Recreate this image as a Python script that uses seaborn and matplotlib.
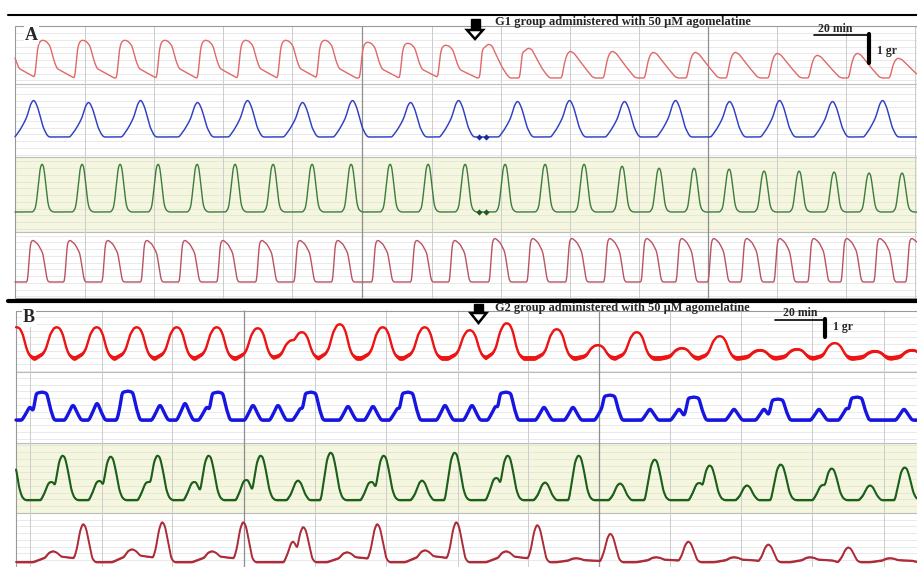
import numpy as np
import pandas as pd
import matplotlib
matplotlib.use("Agg")
import matplotlib.pyplot as plt
from matplotlib.patches import Polygon, Rectangle
import seaborn as sns

# ---------------- data (pixel units) ----------------
# Panel A (G1 group) -- beat onsets / peaks and amplitudes
a_red_onsets = [-3, 35, 75, 117, 157, 198, 238, 278, 317, 360, 400, 438,
                480, 520, 562, 604, 645, 687, 727, 769, 809, 849, 890]
a_red_amps = [38, 38, 38, 38, 38, 38, 38, 38, 38, 36, 35, 33,
              34, 30, 27, 27, 26, 26, 26, 25, 23, 25, 20]
a_red_kinds = ["a_pre"] * 12 + ["a_mid"] * 2 + ["a_post"] * 9

a_blue_peaks = [33, 88, 140, 197, 247, 302, 352, 410, 458, 517, 569, 624,
                675, 729, 779, 832, 882]
a_blue_amps = [37, 35, 37, 35, 37, 35, 37, 35, 37, 36, 37, 36, 37, 36, 37, 36, 37]

a_green_peaks = [42, 82, 120, 158, 197, 235, 273, 312, 351, 390, 428, 465,
                 505, 545, 584, 622, 659, 694, 729, 764, 799, 834, 869, 902]
a_green_amps = [49] * 15 + [47, 45, 45, 44, 42, 42, 41, 40, 40]

a_dred_onsets = [28, 65, 103, 142, 180, 218, 257, 295, 333, 373, 412, 450,
                 490, 528, 567, 605, 642, 677, 709, 742, 775, 809, 842, 875, 907]
a_dred_amps = [42] * 12 + [44] * 13

a_marks_x = [479, 486]

# Panel B (G2 group)
b_red_peaks = [17, 57, 97, 137, 177, 217, 258, 293, 302, 340, 383, 425, 470,
               507, 557, 598, 637, 682, 720, 760, 797, 835, 875, 912]
b_red_amps = [31, 31, 31, 31, 31, 31, 30, 18, 26, 34, 31, 31, 28,
              35, 29, 13, 26, 10, 22, 8, 9, 15, 7, 8]

b_blue_peaks = [30, 42, 73, 97, 128, 160, 185, 207, 218, 253, 278, 301, 311,
                348, 373, 398, 408, 445, 472, 496, 506, 544, 573, 603, 610,
                650, 679, 694, 734, 764, 778, 819, 847, 857, 904]
b_blue_amps = [13, 28, 15, 17, 29, 15, 17, 13, 28, 15, 15, 12, 28,
               14, 14, 12, 28, 15, 15, 14, 28, 13, 13, 13, 25,
               11, 11, 23, 11, 11, 21, 11, 12, 23, 11]
b_blue_kinds = ["bs", "bb", "bs", "bs", "bb", "bs", "bs", "bs", "bb", "bs", "bs", "bs", "bb",
                "bs", "bs", "bs", "bb", "bs", "bs", "bs", "bb", "bs", "bs", "bs", "bb",
                "bs", "bs", "bb", "bs", "bs", "bb", "bs", "bs", "bb", "bs"]

b_green_peaks = [10, 50, 62, 98, 110, 147, 157, 193, 208, 245, 260, 298, 330,
                 370, 383, 422, 454, 495, 507, 545, 578, 620, 654, 698, 709,
                 747, 780, 822, 831, 870, 904]
b_green_amps = [50, 18, 45, 19, 44, 18, 45, 18, 45, 20, 45, 20, 48,
                18, 45, 20, 48, 22, 45, 18, 45, 17, 41, 17, 35,
                15, 36, 15, 32, 15, 33]
b_green_kinds = ["gb", "gh", "gb", "gh", "gb", "gh", "gb", "gh", "gb", "gh", "gb", "gs", "gb",
                 "gh", "gb", "gs", "gb", "gh", "gb", "gs", "gb", "gs", "gb", "gh", "gb",
                 "gs", "gb", "gh", "gb", "gs", "gb"]

b_dred_peaks = [53, 83, 132, 162, 212, 243, 293, 303, 347, 377, 425, 456,
                506, 537, 576, 610, 656, 688, 734, 768, 810, 848, 890]
b_dred_amps = [11, 39, 13, 41, 11, 41, 21, 36, 10, 39, 12, 41,
               11, 38, 4, 29, 5, 21, 5, 18, 5, 15, 4]
b_dred_kinds = ["ds", "db", "ds", "db", "ds", "db", "dh", "db", "ds", "db", "ds", "db",
                "ds", "db", "ds", "db", "ds", "db", "ds", "db", "ds", "db", "ds"]

# ---------------- beat shape templates (style) ----------------
TPL = {
    "a_pre": ([0, 2, 4, 7, 11, 15, 19, 22, 39], [0, .7, .93, 1, .97, .85, .45, .25, 0]),
    "a_mid": ([0, 2, 5, 8, 12, 15, 22, 27, 30], [0, .85, .9, 1, .95, .75, .32, .09, 0]),
    "a_post": ([0, 2, 5, 8, 12, 22, 30, 33], [0, .5, .88, 1, .92, .42, .05, 0]),
    "a_blue": ([-18, -13, -9, -6, -3, 0, 2, 5, 10, 14, 16],
               [0, .19, .38, .55, .85, 1, .97, .78, .27, .05, 0]),
    "a_green": ([-9, -6, -4, -2, 0, 2, 4, 6, 8, 11], [0, .1, .5, .9, 1, .92, .5, .15, .04, 0]),
    "a_dred": ([0, 1, 2.5, 5, 10, 15, 17, 19, 20.5], [0, .6, .95, 1, .9, .68, .35, .05, 0]),
    "r": ([-22, -14, -11, -7, -3, 0, 3, 6, 9, 12, 16], [0, .15, .3, .75, .97, 1, .95, .75, .35, .1, 0]),
    "bb": ([-11, -8, -6, 0, 5, 8, 12], [0, .45, .95, 1, .95, .45, 0]),
    "bs": ([-8, -4, -1, 0, 1, 4, 8], [0, .5, .95, 1, .95, .5, 0]),
    "gb": ([-9, -6, -3, 0, 3, 6, 9, 12, 15], [0, .45, .85, 1, .95, .65, .25, .06, 0]),
    "gh": ([-9, -5, -2, 0, 3, 7, 10], [0, .45, .9, 1, 1, .5, 0]),
    "gs": ([-11, -7, -3, 0, 3, 7, 11], [0, .3, .85, 1, .85, .3, 0]),
    "db": ([-10, -6, -3, 0, 3, 6, 9, 12], [0, .35, .8, 1, .88, .5, .1, 0]),
    "ds": ([-20, -8, -4, 0, 4, 8, 22, 28], [0, .4, .85, 1, .85, .5, .35, 0]),
    "dh": ([-9, -5, -2, 0, 3, 6], [0, .45, .9, 1, .8, 0]),
}


def trace(x, centers, amps, kinds, baseline):
    h = np.zeros_like(x)
    for c, a, k in zip(centers, amps, kinds):
        t, f = TPL[k]
        h = np.maximum(h, a * np.interp(x - c, t, f, left=0, right=0))
    k = np.exp(-0.5 * (np.arange(-8, 9) * 0.25 / 0.8) ** 2)
    k /= k.sum()
    hp = np.pad(h, 8, mode="edge")
    h = np.convolve(hp, k, mode="same")[8:-8]
    return baseline - h, h


# ---------------- figure ----------------
sns.set_theme(style="white")
plt.rcParams["font.family"] = ["Liberation Serif", "DejaVu Serif"]

fig = plt.figure(figsize=(9.17, 5.67), dpi=100)
ax = fig.add_axes([0, 0, 1, 1])
ax.set_xlim(0, 917)
ax.set_ylim(567, 0)
ax.axis("off")

# backgrounds / grid
ax.add_patch(Rectangle((15, 157), 902, 75, color="#f4f6dd", zorder=0, lw=0))
ax.add_patch(Rectangle((16, 443), 901, 70, color="#f4f6dd", zorder=0, lw=0))
ax.hlines(np.arange(33, 298, 6.75), 15, 917, color="#e0e0e0", lw=0.5, zorder=0.5)
ax.hlines([84, 157, 232], 15, 917, color="#bcbcbc", lw=0.8, zorder=0.6)
ax.hlines(np.arange(317, 567, 6.75), 16, 917, color="#e0e0e0", lw=0.5, zorder=0.5)
ax.hlines([372, 443, 513], 16, 917, color="#bcbcbc", lw=0.8, zorder=0.6)
ax.vlines([85, 154, 223, 292, 432, 501, 570, 639, 777, 846, 915], 26, 298,
          color="#cccccc", lw=0.7, zorder=0.7)
ax.vlines([362, 708], 26, 298, color="#8e8e8e", lw=0.9, zorder=0.7)
ax.vlines([30, 102, 172, 315, 386, 458, 528, 670, 741, 812, 884], 310, 567,
          color="#cccccc", lw=0.7, zorder=0.7)
ax.vlines([244, 599], 310, 567, color="#8e8e8e", lw=0.9, zorder=0.7)
ax.add_patch(Rectangle((15, 26), 902, 272, fill=False, ec="#9a9a9a", lw=0.8, zorder=0.8))
ax.plot([16, 917], [311, 311], color="#9a9a9a", lw=0.8, zorder=0.8)
ax.plot([16, 16], [311, 567], color="#9a9a9a", lw=0.8, zorder=0.8)

# black rules
ax.plot([8, 917], [15, 15], color="black", lw=1.5, zorder=3)
ax.plot([8, 917], [301, 301], color="black", lw=3.0, zorder=3)

xa = np.arange(15, 917.01, 0.25)
xb = np.arange(16, 917.01, 0.25)

specs_a = [
    (a_red_onsets, a_red_amps, a_red_kinds, 78, "#e06868", 1.0),
    (a_blue_peaks, a_blue_amps, ["a_blue"] * len(a_blue_peaks), 137, "#2f3fc4", 1.05),
    (a_green_peaks, a_green_amps, ["a_green"] * len(a_green_peaks), 212, "#3d7c3d", 1.0),
    (a_dred_onsets, a_dred_amps, ["a_dred"] * len(a_dred_onsets), 282, "#bb5262", 1.0),
]
for c, a, k, base, col, lw in specs_a:
    y, _ = trace(xa, c, a, k, base)
    sns.lineplot(x=xa, y=y, ax=ax, color=col, linewidth=lw, estimator=None,
                 sort=False, zorder=2)

# event marks on panel A
sns.scatterplot(x=a_marks_x, y=[137, 137], ax=ax, color="#1a2aa0", marker="D", s=10,
                linewidth=0, zorder=3)
sns.scatterplot(x=a_marks_x, y=[212, 212], ax=ax, color="#1f5a1f", marker="D", s=10,
                linewidth=0, zorder=3)

specs_b = [
    (b_red_peaks, b_red_amps, ["r"] * len(b_red_peaks), 358, "#ee1414", 1.7, 2.0),
    (b_blue_peaks, b_blue_amps, b_blue_kinds, 420, "#1616e0", 2.4, 0.8),
    (b_green_peaks, b_green_amps, b_green_kinds, 500, "#1b5f1b", 1.5, 0.4),
    (b_dred_peaks, b_dred_amps, b_dred_kinds, 562, "#ad2c38", 1.4, 0.5),
]
for c, a, k, base, col, lw, band in specs_b:
    y, h = trace(xb, c, a, k, base)
    w = 0.4 + band * np.clip(1 - h / 15.0, 0, 1)
    ax.fill_between(xb, y - w, y + w, color=col, lw=0, zorder=2)
    sns.lineplot(x=xb, y=y, ax=ax, color=col, linewidth=lw, estimator=None,
                 sort=False, zorder=2)

# labels, arrows, scale bars
ax.text(25, 35, "A", fontsize=13, fontweight="bold", va="center", ha="left", zorder=4,
        bbox=dict(fc="white", ec="none", pad=0.5))
ax.text(23, 318, "B", fontsize=13, fontweight="bold", va="center", ha="left", zorder=4,
        bbox=dict(fc="white", ec="none", pad=0.5))
ax.text(495, 22.5, "G1 group administered with 50 µM agomelatine", fontsize=9.0,
        fontweight="bold", va="center", ha="left", zorder=4)
ax.text(495, 308.5, "G2 group administered with 50 µM agomelatine", fontsize=8.9,
        fontweight="bold", va="center", ha="left", zorder=4)

for sx, top, mid, tip in [(475, 19, 30, 39), (478.5, 304, 313, 323)]:
    ax.add_patch(Rectangle((sx - 4.5, top), 9, mid - top, color="black", zorder=4))
    ax.add_patch(Polygon([[sx - 8, mid], [sx + 8, mid], [sx, tip]], closed=True,
                         fc="white", ec="black", lw=1.8, zorder=4))

ax.plot([814, 869], [34.5, 34.5], color="black", lw=1.2, zorder=4)
ax.plot([869, 869], [34, 63], color="black", lw=3, zorder=4)
ax.text(835, 29, "20 min", fontsize=8.5, fontweight="bold", ha="center", va="center", zorder=4)
ax.text(877, 51, "1 gr", fontsize=8.5, fontweight="bold", ha="left", va="center", zorder=4)

ax.plot([775, 825], [319.5, 319.5], color="black", lw=1.2, zorder=4)
ax.plot([825, 825], [319, 337], color="black", lw=3, zorder=4)
ax.text(800, 313, "20 min", fontsize=8.5, fontweight="bold", ha="center", va="center", zorder=4)
ax.text(833, 327, "1 gr", fontsize=8.5, fontweight="bold", ha="left", va="center", zorder=4)

fig.savefig("out.png", dpi=100)
